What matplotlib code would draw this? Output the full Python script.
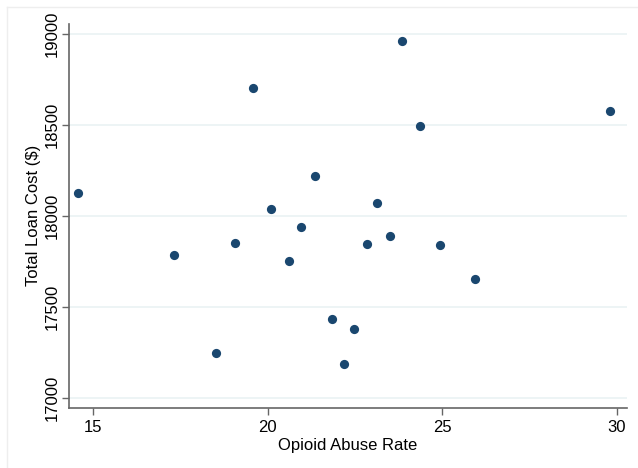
import matplotlib.pyplot as plt
from matplotlib.lines import Line2D

### Data ###
abuse_rate = [14.57, 19.57, 20.09, 21.36, 20.95, 23.86, 29.82, 24.35, 23.14, 23.51,
              17.32, 19.06, 20.61, 18.51, 22.84, 24.93, 25.93, 21.83, 22.47, 22.19]
loan_cost = [18126, 18701, 18039, 18221, 17940, 18963, 18578, 18492, 18072, 17891,
             17783, 17852, 17751, 17244, 17843, 17840, 17652, 17431, 17379, 17183]

x_ticks = [15, 20, 25, 30]
y_ticks = [17000, 17500, 18000, 18500, 19000]

### Figure ###
plt.rcParams['font.family'] = ['Liberation Sans', 'DejaVu Sans']

fig = plt.figure(figsize=(6.38, 4.68), dpi=100)
ax = fig.add_axes([0.1082, 0.1288, 0.8746, 0.8199])

# faint outer frame (top and left edge only)
fig.add_artist(Line2D([7/638, 7/638], [0, 1 - 7/468], transform=fig.transFigure,
                      color='#eeeeee', lw=1))
fig.add_artist(Line2D([7/638, 1], [1 - 7/468, 1 - 7/468], transform=fig.transFigure,
                      color='#eeeeee', lw=1))

ax.scatter(abuse_rate, loan_cost, s=44, color='#1a476f', zorder=3, linewidths=0)

ax.set_xlim(14.30, 30.30)
ax.set_ylim(16945, 19055)
ax.set_xticks(x_ticks)
ax.set_yticks(y_ticks)
ax.set_yticklabels([str(v) for v in y_ticks], rotation=90, va='center')

ax.grid(axis='y', color='#eaf2f3', lw=1.2)
ax.set_axisbelow(True)

for side in ['top', 'right']:
    ax.spines[side].set_visible(False)
for side in ['left', 'bottom']:
    ax.spines[side].set_color('#666666')
    ax.spines[side].set_linewidth(1.2)

ax.tick_params(axis='both', length=5, width=1, color='#666666', labelsize=12)
ax.tick_params(axis='y', pad=1.5)
ax.tick_params(axis='x', pad=4)
ax.set_xlabel('Opioid Abuse Rate', fontsize=12, labelpad=2)
ax.set_ylabel('Total Loan Cost ($)', fontsize=12, labelpad=3)

plt.savefig('out.png', dpi=100)
